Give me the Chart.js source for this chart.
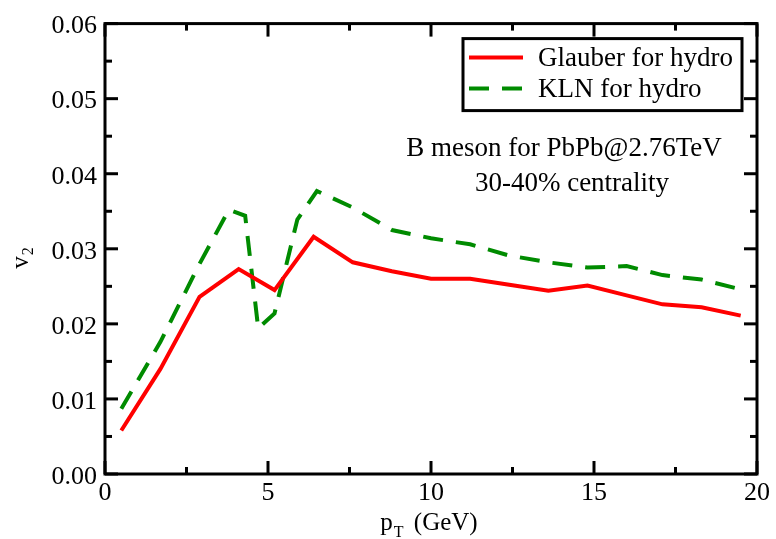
<!DOCTYPE html>
<html>
<head>
<meta charset="utf-8">
<script src="https://cdn.jsdelivr.net/npm/chart.js@4/dist/chart.umd.min.js"></script>
<style>
  html, body { margin: 0; padding: 0; background: #ffffff; }
  #wrap { width: 776px; height: 539px; }
</style>
</head>
<body>
<div id="wrap"><canvas id="c" width="776" height="539"></canvas></div>
<script>
// B meson elliptic flow v2 vs pT, 30-40% centrality, two initial conditions
const ptGlauber = [0.5, 1.7, 2.9, 4.1, 5.2, 6.4, 7.6, 8.8, 10.0, 11.2, 12.4, 13.6, 14.8, 16.0, 17.1, 18.3, 19.5];
const v2Glauber = [0.0058, 0.0140, 0.0236, 0.0273, 0.0245, 0.0316, 0.0282, 0.0270, 0.0260, 0.0260, 0.0252, 0.0244, 0.0251, 0.0238, 0.0226, 0.0222, 0.0211];

const ptKLN = [0.5, 1.7, 2.9, 3.8, 4.3, 4.7, 5.2, 5.9, 6.5, 7.6, 8.8, 10.0, 11.2, 12.4, 13.6, 14.8, 16.0, 17.1, 18.3, 19.5];
const v2KLN = [0.0087, 0.0176, 0.0280, 0.0352, 0.0344, 0.0194, 0.0214, 0.0339, 0.0377, 0.0355, 0.0325, 0.0314, 0.0306, 0.0291, 0.0282, 0.0275, 0.0277, 0.0265, 0.0259, 0.0246];

const seriesLabels = ['Glauber for hydro', 'KLN for hydro'];
const noteLines = ['B meson for PbPb@2.76TeV', '30-40% centrality'];

const xMajorTicks = [0, 5, 10, 15, 20];
const xMinorTicks = [2.5, 7.5, 12.5, 17.5];
const yMajorTicks = [0.00, 0.01, 0.02, 0.03, 0.04, 0.05, 0.06];
const yMinorTicks = [0.005, 0.015, 0.025, 0.035, 0.045, 0.055];

const SERIF = "'Liberation Serif', 'Times New Roman', serif";
const RED = '#ff0000';
const GREEN = '#008b00';

function pairs(xs, ys) { return xs.map((x, i) => ({ x: x, y: ys[i] })); }

// Frame with inward major/minor ticks on all four sides
const framePlugin = {
  id: 'frame',
  afterDraw(chart) {
    const { ctx, chartArea: a, scales: { x, y } } = chart;
    ctx.save();
    ctx.strokeStyle = '#000';
    ctx.lineWidth = 3;
    ctx.lineCap = 'butt';
    ctx.strokeRect(a.left, a.top, a.right - a.left, a.bottom - a.top);
    const tick = (x1, y1, x2, y2) => { ctx.beginPath(); ctx.moveTo(x1, y1); ctx.lineTo(x2, y2); ctx.stroke(); };
    xMajorTicks.forEach(v => { const p = x.getPixelForValue(v); tick(p, a.bottom, p, a.bottom - 13); tick(p, a.top, p, a.top + 13); });
    xMinorTicks.forEach(v => { const p = x.getPixelForValue(v); tick(p, a.bottom, p, a.bottom - 7); tick(p, a.top, p, a.top + 7); });
    yMajorTicks.forEach(v => { const p = y.getPixelForValue(v); tick(a.left, p, a.left + 13, p); tick(a.right, p, a.right - 13, p); });
    yMinorTicks.forEach(v => { const p = y.getPixelForValue(v); tick(a.left, p, a.left + 7, p); tick(a.right, p, a.right - 7, p); });
    ctx.restore();
  }
};

// Axis titles with subscripts
const titlesPlugin = {
  id: 'titles',
  afterDraw(chart) {
    const { ctx, chartArea: a } = chart;
    ctx.save();
    ctx.fillStyle = '#000';
    ctx.textBaseline = 'alphabetic';
    ctx.textAlign = 'left';
    // x title: p_T (GeV)
    const big = '25px ' + SERIF, small = '16px ' + SERIF;
    ctx.font = big; const wp = ctx.measureText('p').width; const wg = ctx.measureText(' (GeV)').width;
    ctx.font = small; const wt = ctx.measureText('T').width;
    const total = wp + 1 + wt + 4 + wg;
    const sx = (a.left + a.right) / 2 - 2 - total / 2;
    const base = 530;
    ctx.font = big; ctx.fillText('p', sx, base);
    ctx.font = small; ctx.fillText('T', sx + wp + 1, base + 7);
    ctx.font = big; ctx.fillText(' (GeV)', sx + wp + 1 + wt + 4, base);
    // y title: v_2 rotated
    ctx.translate(28, (a.top + a.bottom) / 2 + 20);
    ctx.rotate(-Math.PI / 2);
    ctx.font = big; const wv = ctx.measureText('v').width;
    ctx.fillText('v', 0, 0);
    ctx.font = small; ctx.fillText('2', wv + 1, 5);
    ctx.restore();
  }
};

// Boxed legend and annotation text inside the plot
const legendNotePlugin = {
  id: 'legendNote',
  afterDraw(chart) {
    const { ctx, chartArea: a } = chart;
    ctx.save();
    const bx = a.left + 358, by = a.top + 15, bw = 279, bh = 72;
    ctx.fillStyle = '#fff';
    ctx.fillRect(bx, by, bw, bh);
    ctx.strokeStyle = '#000';
    ctx.lineWidth = 3;
    ctx.strokeRect(bx, by, bw, bh);
    const rows = [by + 19, by + 50];
    chart.data.datasets.forEach((ds, i) => {
      ctx.strokeStyle = ds.borderColor;
      ctx.lineWidth = ds.borderWidth;
      ctx.setLineDash(ds.borderDash || []);
      ctx.beginPath();
      ctx.moveTo(bx + 6, rows[i]);
      ctx.lineTo(bx + 60, rows[i]);
      ctx.stroke();
      ctx.setLineDash([]);
      ctx.fillStyle = '#000';
      ctx.font = '27px ' + SERIF;
      ctx.textAlign = 'left';
      ctx.textBaseline = 'alphabetic';
      ctx.fillText(ds.label, bx + 75, rows[i] + 8);
    });
    ctx.fillStyle = '#000';
    ctx.font = '27px ' + SERIF;
    ctx.textAlign = 'center';
    ctx.fillText(noteLines[0], 564, 156);
    ctx.fillText(noteLines[1], 572, 191);
    ctx.restore();
  }
};

new Chart(document.getElementById('c'), {
  type: 'line',
  data: {
    datasets: [
      {
        label: seriesLabels[0],
        data: pairs(ptGlauber, v2Glauber),
        borderColor: RED,
        borderWidth: 4,
        pointRadius: 0,
        tension: 0,
        fill: false
      },
      {
        label: seriesLabels[1],
        data: pairs(ptKLN, v2KLN),
        borderColor: GREEN,
        borderWidth: 4,
        borderDash: [20, 13],
        pointRadius: 0,
        tension: 0,
        fill: false
      }
    ]
  },
  options: {
    responsive: false,
    animation: false,
    devicePixelRatio: 1,
    layout: { padding: { top: 18, right: 19, left: 0, bottom: 0 } },
    plugins: { legend: { display: false }, tooltip: { enabled: false } },
    scales: {
      x: {
        type: 'linear',
        min: 0, max: 20,
        afterBuildTicks: s => { s.ticks = xMajorTicks.map(v => ({ value: v })); },
        afterFit: s => { s.height = 65; },
        grid: { display: false, drawTicks: false },
        border: { display: false },
        ticks: {
          color: '#000',
          font: { family: SERIF, size: 26 },
          padding: 4,
          maxRotation: 0,
          callback: v => String(v)
        }
      },
      y: {
        type: 'linear',
        min: 0, max: 0.06,
        afterBuildTicks: s => { s.ticks = yMajorTicks.map(v => ({ value: v })); },
        afterFit: s => { s.width = 105; },
        grid: { display: false, drawTicks: false },
        border: { display: false },
        ticks: {
          color: '#000',
          font: { family: SERIF, size: 26 },
          padding: 8,
          labelOffset: 3,
          callback: v => Number(v).toFixed(2)
        }
      }
    }
  },
  plugins: [framePlugin, titlesPlugin, legendNotePlugin]
});
</script>
</body>
</html>
